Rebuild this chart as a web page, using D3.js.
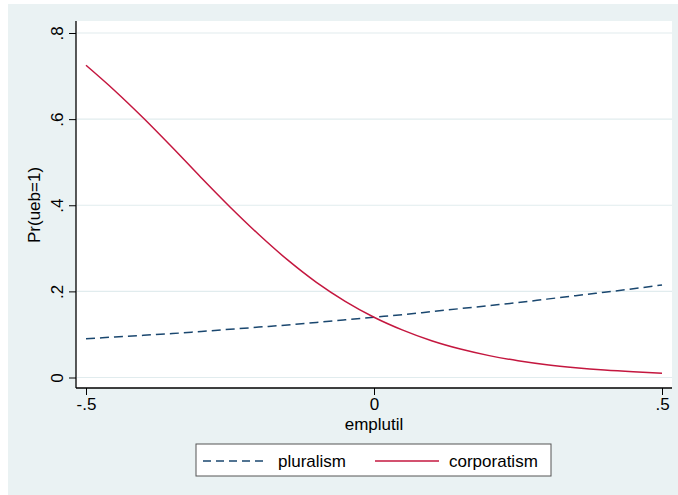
<!DOCTYPE html>
<html>
<head>
<meta charset="utf-8">
<script src="https://cdn.jsdelivr.net/npm/d3@7/dist/d3.min.js"></script>
<style>
html,body{margin:0;padding:0;background:#fff;}
svg{display:block;font-family:"Liberation Sans",Arial,Helvetica,sans-serif;}
</style>
</head>
<body>
<svg id="chart" width="678" height="495"></svg>
<script>
const xValues = [-0.5,-0.45,-0.4,-0.35,-0.3,-0.25,-0.2,-0.15,-0.1,-0.05,0,0.05,0.1,0.15,0.2,0.25,0.3,0.35,0.4,0.45,0.5];
const pluralism = [0.090,0.094,0.098,0.102,0.107,0.112,0.117,0.122,0.128,0.134,0.140,0.146,0.153,0.160,0.167,0.174,0.182,0.190,0.198,0.206,0.215];
const corporatism = [0.725,0.666,0.602,0.534,0.464,0.396,0.332,0.273,0.221,0.177,0.140,0.110,0.0853,0.066,0.0508,0.0389,0.0297,0.0227,0.0172,0.0131,0.0100];
const xTicks = [-0.5,0,0.5];
const xTickLabels = ["-.5","0",".5"];
const yTicks = [0,0.2,0.4,0.6,0.8];
const yTickLabels = ["0",".2",".4",".6",".8"];
const seriesNames = ["pluralism","corporatism"];

const svg = d3.select("#chart");
const navy = "#1a476f", red = "#c4173f", bg = "#eaf2f3", grid = "#e1ecee";
const fs = 17;

svg.append("rect").attr("x",8).attr("y",4).attr("width",670).attr("height",491).attr("fill",bg);

const pL = 76, pR = 672, pT = 21, pB = 388;
svg.append("rect").attr("x",pL).attr("y",pT).attr("width",pR-pL).attr("height",pB-pT).attr("fill","#fff");

const x = d3.scaleLinear().domain([-0.5,0.5]).range([86,662]);
const y = d3.scaleLinear().domain([0,0.8]).range([377.5,33]);

// gridlines
svg.append("g").selectAll("line").data(yTicks).join("line")
  .attr("x1",pL+1).attr("x2",pR).attr("y1",d=>y(d)).attr("y2",d=>y(d))
  .attr("stroke",grid).attr("stroke-width",1.2);

// y axis
const yAxis = d3.axisLeft(y).tickValues(yTicks).tickSize(7).tickPadding(0).tickFormat((d,i)=>yTickLabels[i]);
const gy = svg.append("g").attr("transform",`translate(${pL},0)`).call(yAxis);
gy.select(".domain").attr("d",`M0,${pT}V${pB}`).attr("stroke","#000").attr("stroke-width",1.3);
gy.selectAll(".tick line").attr("stroke","#000").attr("stroke-width",1);
gy.selectAll(".tick text").attr("font-size",fs).attr("fill","#000")
  .attr("transform","translate(-19,0) rotate(-90)").attr("x",0).attr("dy","0").attr("text-anchor","middle")
  .attr("dominant-baseline","central");

// x axis
const xAxis = d3.axisBottom(x).tickValues(xTicks).tickSize(7).tickPadding(3).tickFormat((d,i)=>xTickLabels[i]);
const gx = svg.append("g").attr("transform",`translate(0,${pB})`).call(xAxis);
gx.select(".domain").attr("d",`M${pL},0H${pR}`).attr("stroke","#000").attr("stroke-width",1.3);
gx.selectAll(".tick line").attr("stroke","#000").attr("stroke-width",1);
gx.selectAll(".tick text").attr("font-size",fs).attr("fill","#000");

// axis titles
svg.append("text").attr("x",374).attr("y",430).attr("text-anchor","middle").attr("font-size",fs).text("emplutil");
svg.append("text").attr("transform","translate(40,205) rotate(-90)").attr("text-anchor","middle").attr("font-size",fs).text("Pr(ueb=1)");

// lines
const line = d3.line().x((d,i)=>x(xValues[i])).y(d=>y(d)).curve(d3.curveMonotoneX);
svg.append("path").datum(pluralism).attr("d",line).attr("fill","none").attr("stroke",navy).attr("stroke-width",1.5).attr("stroke-dasharray","9,5");
svg.append("path").datum(corporatism).attr("d",line).attr("fill","none").attr("stroke",red).attr("stroke-width",1.5);

// legend
const lg = svg.append("g");
lg.append("rect").attr("x",196).attr("y",444).attr("width",355).attr("height",32).attr("fill","#fff").attr("stroke","#555").attr("stroke-width",1);
lg.append("line").attr("x1",203).attr("x2",268).attr("y1",461).attr("y2",461).attr("stroke",navy).attr("stroke-width",1.5).attr("stroke-dasharray","8,5");
lg.append("text").attr("x",278).attr("y",467).attr("font-size",fs).text(seriesNames[0]);
lg.append("line").attr("x1",375).attr("x2",439).attr("y1",461).attr("y2",461).attr("stroke",red).attr("stroke-width",1.5);
lg.append("text").attr("x",449).attr("y",467).attr("font-size",fs).text(seriesNames[1]);
</script>
</body>
</html>
